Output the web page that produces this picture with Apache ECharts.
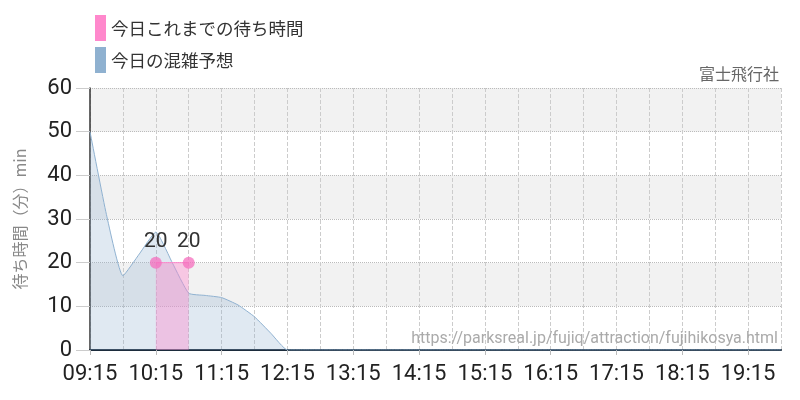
<!DOCTYPE html>
<html><head><meta charset="utf-8">
<script src="https://cdn.jsdelivr.net/npm/echarts@6/dist/echarts.min.js"></script>
<style>html,body{margin:0;padding:0;background:#fff}#c{width:800px;height:400px}</style>
</head><body><div id="c"></div>
<script>
const categories = ['09:15','09:30','09:45','10:00','10:15','10:30','10:45','11:00','11:15','11:30','11:45','12:00','12:15','12:30','12:45','13:00','13:15','13:30','13:45','14:00','14:15','14:30','14:45','15:00','15:15','15:30','15:45','16:00','16:15','16:30','16:45','17:00','17:15','17:30','17:45','18:00','18:15','18:30','18:45','19:00','19:15','19:30','19:45'];
const forecast = [50,31,17,22,27,20,13,12.5,12,10.3,7.6,3.8,0,0,0,0,0,0,0,0,0,0,0,0,0,0,0,0,0,0,0,0,0,0,0,0,0,0,0,0,0,0,0];
const actual = [null,null,null,null,20,null,20,null,null,null,null,null,null,null,null,null,null,null,null,null,null,null,null,null,null,null,null,null,null,null,null,null,null,null,null,null,null,null,null,null,null,null,null];
const seriesNames = ['今日これまでの待ち時間','今日の混雑予想'];
const yTicks = [0,10,20,30,40,50,60];
const narrow = "Roboto,'Noto Sans',sans-serif";
const cjk = "'Noto Sans CJK JP','Noto Sans',sans-serif";
const chart = echarts.init(document.getElementById('c'));
chart.setOption({
  animation:false,
  title:{text:'富士飛行社',right:21,top:66,padding:0,textStyle:{fontSize:16,fontWeight:'normal',color:'#666',fontFamily:cjk}},
  legend:{orient:'vertical',left:95,top:15,padding:0,itemWidth:11,itemHeight:26,itemGap:6,icon:'rect',
    textStyle:{fontSize:17.5,color:'#333',fontFamily:cjk},
    data:[{name:seriesNames[0],itemStyle:{color:'#ff88cc',opacity:1}},{name:seriesNames[1],itemStyle:{color:'#8fb1d0',opacity:1}}]},
  grid:{left:90,right:19,top:88,bottom:50,containLabel:false},
  graphic:[{type:'text',right:22,top:331,z:100,zlevel:1,style:{text:'https://parksreal.jp/fujiq/attraction/fujihikosya.html',fill:'#aaa',fontSize:16,fontFamily:narrow}}],
  xAxis:{type:'category',data:categories,boundaryGap:false,
    axisLine:{lineStyle:{color:'#1c2c3c',width:2}},
    axisTick:{show:true,interval:3,length:5,lineStyle:{color:'#bbb'}},
    axisLabel:{interval:3,fontSize:22,color:'#222',fontFamily:narrow,margin:13},
    splitLine:{show:true,interval:1,lineStyle:{color:'#ccc',type:'dashed'}}},
  yAxis:{type:'value',min:yTicks[0],max:yTicks[yTicks.length-1],interval:10,
    name:'待ち時間（分）min',nameLocation:'middle',nameGap:62,
    nameTextStyle:{fontSize:16,color:'#888',fontFamily:cjk},
    axisLine:{show:true,lineStyle:{color:'#333',width:1.5}},
    axisTick:{show:true,length:14,lineStyle:{color:'#ccc'}},
    axisLabel:{fontSize:22,color:'#222',fontFamily:narrow,margin:18},
    splitLine:{show:true,lineStyle:{color:'#bbb',type:'dotted'}},
    splitArea:{show:true,areaStyle:{color:['#ffffff','#f2f2f2']}}},
  series:[
    {name:seriesNames[0],type:'line',data:actual,connectNulls:true,z:3,
     symbol:'circle',symbolSize:12,showSymbol:true,showAllSymbol:true,
     itemStyle:{color:'rgba(245,110,190,0.75)'},
     lineStyle:{color:'#ff88cc',width:1},
     areaStyle:{color:'#ff88cc',opacity:0.4},
     label:{show:true,position:'top',distance:4,fontSize:21,color:'#333',fontFamily:narrow}},
    {name:seriesNames[1],type:'line',data:forecast,smooth:0.15,z:2,symbol:'none',
     itemStyle:{color:'#8fb1d0'},
     lineStyle:{color:'#8fb1d0',width:1},
     areaStyle:{color:'#8fb1d0',opacity:0.28}}
  ]
});
</script></body></html>
